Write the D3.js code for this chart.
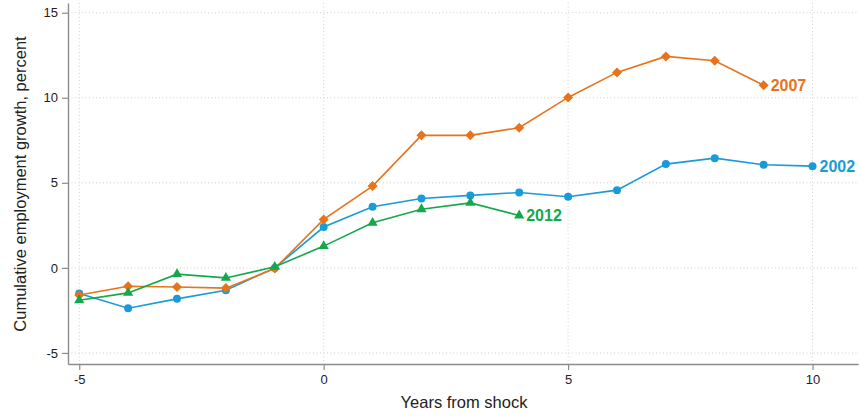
<!DOCTYPE html>
<html>
<head>
<meta charset="utf-8">
<script src="https://cdn.jsdelivr.net/npm/d3@7"></script>
<style>
  body { margin: 0; background: #fff; }
  svg { display: block; font-family: "Liberation Sans", Arial, sans-serif; }
</style>
</head>
<body>
<div id="chart"></div>
<script>
var svgWidth = 860;
var svgHeight = 416;

// data
var years = [-5, -4, -3, -2, -1, 0, 1, 2, 3, 4, 5, 6, 7, 8, 9, 10];
var growth2002 = [-1.5, -2.37, -1.82, -1.31, 0.0, 2.4, 3.59, 4.08, 4.26, 4.43, 4.18, 4.57, 6.1, 6.45, 6.06, 5.98];
var growth2007 = [-1.59, -1.08, -1.12, -1.19, -0.04, 2.85, 4.81, 7.79, 7.79, 8.24, 10.02, 11.49, 12.43, 12.18, 10.73];
var growth2012 = [-1.9, -1.47, -0.37, -0.59, 0.06, 1.28, 2.65, 3.45, 3.82, 3.08];
var xTicks = [-5, 0, 5, 10];
var yTicks = [-5, 0, 5, 10, 15];

var series = [
  { name: "2002", values: growth2002, color: "#1a9bd7", shape: d3.symbolCircle, size: 50, rot: 0 },
  { name: "2007", values: growth2007, color: "#e8731a", shape: d3.symbolSquare, size: 50, rot: 45 },
  { name: "2012", values: growth2012, color: "#14a84a", shape: d3.symbolTriangle, size: 45, rot: 0 }
];

var margin = { top: 3, right: 2, bottom: 52, left: 68 };
var width = svgWidth - margin.left - margin.right;
var height = svgHeight - margin.top - margin.bottom;

var svg = d3.select("#chart").append("svg")
  .attr("width", svgWidth)
  .attr("height", svgHeight);

var chartGroup = svg.append("g")
  .attr("transform", `translate(${margin.left}, ${margin.top})`);

var xScale = d3.scaleLinear().domain([-5.23, 10.93]).range([0, width]);
var yScale = d3.scaleLinear().domain([-5.65, 15.57]).range([height, 0]);

// dotted grid
chartGroup.selectAll(".ygrid").data(yTicks).enter().append("line")
  .attr("x1", 0).attr("x2", width)
  .attr("y1", d => yScale(d)).attr("y2", d => yScale(d))
  .attr("stroke", "#d0d0d0").attr("stroke-width", 1)
  .attr("stroke-dasharray", "1,2.5");
chartGroup.selectAll(".xgrid").data(xTicks).enter().append("line")
  .attr("y1", 0).attr("y2", height)
  .attr("x1", d => xScale(d)).attr("x2", d => xScale(d))
  .attr("stroke", "#d0d0d0").attr("stroke-width", 1)
  .attr("stroke-dasharray", "1,2.5");

// axes
var xAxis = chartGroup.append("g")
  .attr("transform", `translate(0, ${height})`)
  .call(d3.axisBottom(xScale).tickValues(xTicks).tickSize(6).tickPadding(5).tickSizeOuter(0));
var yAxis = chartGroup.append("g")
  .call(d3.axisLeft(yScale).tickValues(yTicks).tickSize(6).tickPadding(4).tickSizeOuter(0));

[xAxis, yAxis].forEach(function(ax) {
  ax.select(".domain").attr("stroke", "#8c8c8c").attr("stroke-width", 1.4);
  ax.selectAll(".tick line").attr("stroke", "#8c8c8c").attr("stroke-width", 1.2);
  ax.selectAll(".tick text")
    .attr("font-size", 13)
    .attr("fill", "#222")
    .style("font-family", "'Liberation Sans', Arial, sans-serif");
});
xAxis.selectAll(".tick text").text(d => d < 0 ? "-" + Math.abs(d) : d);
yAxis.selectAll(".tick text").text(d => d < 0 ? "-" + Math.abs(d) : d);

// lines and markers
var line = d3.line()
  .x((d, i) => xScale(years[i]))
  .y(d => yScale(d));

series.forEach(function(s) {
  chartGroup.append("path")
    .datum(s.values)
    .attr("fill", "none")
    .attr("stroke", s.color)
    .attr("stroke-width", 1.6)
    .attr("d", line);

  chartGroup.selectAll(".m" + s.name)
    .data(s.values)
    .enter()
    .append("path")
    .attr("d", d3.symbol().type(s.shape).size(s.size))
    .attr("transform", (d, i) => `translate(${xScale(years[i])}, ${yScale(d)}) rotate(${s.rot})`)
    .attr("fill", s.color);

  var last = s.values.length - 1;
  chartGroup.append("text")
    .attr("x", xScale(years[last]) + 7)
    .attr("y", yScale(s.values[last]))
    .attr("dy", "0.36em")
    .attr("font-size", 16)
    .attr("font-weight", "bold")
    .attr("fill", s.color)
    .text(s.name);
});

// axis titles
svg.append("text")
  .attr("transform", "translate(26, 184) rotate(-90)")
  .attr("text-anchor", "middle")
  .attr("font-size", 16.5)
  .attr("fill", "#222")
  .text("Cumulative employment growth, percent");

svg.append("text")
  .attr("x", margin.left + width / 2 + 1)
  .attr("y", svgHeight - 8)
  .attr("text-anchor", "middle")
  .attr("font-size", 16.5)
  .attr("fill", "#222")
  .text("Years from shock");
</script>
</body>
</html>
